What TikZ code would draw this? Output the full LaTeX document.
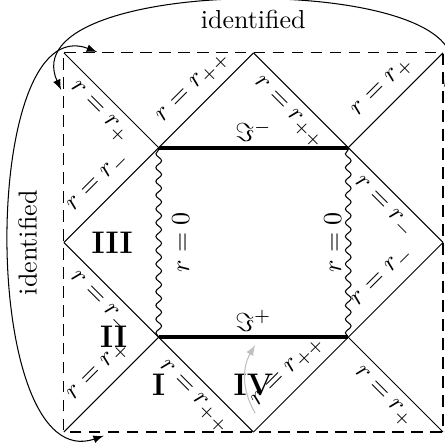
\documentclass[tikz,border=0pt]{standalone}
\usepackage{amsmath}
\usepackage{amssymb}
\usepackage{tikz}
\usetikzlibrary{decorations.pathmorphing, positioning, arrows}

\begin{document}
\begin{tikzpicture}[x=1.281cm, y=1.281cm,
    sing/.style={decorate, decoration={snake, amplitude=1.1pt, segment length=5.3pt}},
    bdry/.style={ultra thick},
    frame/.style={dash pattern=on 4.5pt off 2.8pt},
    region/.style={font=\large\bfseries},
    ident/.style={<->, >=latex}]
    \useasboundingbox (-0.675,-0.137) rectangle (4.021,4.559);

    \coordinate (TL) at (0,4);
    \coordinate (TM) at (2,4);
    \coordinate (TR) at (4,4);
    \coordinate (A) at (1,3);
    \coordinate (B) at (3,3);
    \coordinate (ML) at (0,2);
    \coordinate (MR) at (4,2);
    \coordinate (C) at (1,1);
    \coordinate (D) at (3,1);
    \coordinate (BL) at (0,0);
    \coordinate (BM) at (2,0);
    \coordinate (BR) at (4,0);

    \draw[frame] (TL) -- (TR) -- (BR) -- (BL) -- cycle;

    \draw (TL) edge node[below, sloped] {$r=r_+$} (A);
    \draw (A) edge node[above, sloped] {$r=r_{++}$} (TM);
    \draw (TM) edge node[below, sloped] {$r=r_{++}$} (B);
    \draw (B) edge node[above, sloped] {$r=r_+$} (TR);

    \draw (ML) edge node[above, sloped] {$r=r_-$} (A);
    \draw (ML) edge node[below, sloped] {$r=r_-$} (C);
    \draw (B) edge node[below, sloped] {$r=r_-$} (MR);
    \draw (D) edge node[above, sloped] {$r=r_-$} (MR);

    \draw (BL) edge node[above, sloped] {$r=r_+$} (C);
    \draw (C) edge node[below, sloped] {$r=r_{++}$} (BM);
    \draw (BM) edge node[above, sloped] {$r=r_{++}$} (D);
    \draw (D) edge node[below, sloped] {$r=r_+$} (BR);

    \draw[bdry] (A) -- node[above, inner sep=1.5pt] (Im) {$\Im^-$} (B);
    \draw[bdry] (C) -- node[above, inner sep=1.5pt] (Ip) {$\Im^+$} (D);
    \draw (C) edge[sing] node[below, sloped, inner sep=5pt] {$r=0$} (A);
    \draw (D) edge[sing] node[above, sloped, inner sep=2.5pt] {$r=0$} (B);

    \node[region, right=0.25cm of ML] (III) {III};
    \node[region, left=0.3cm of C] (II) {II};
    \node[region, below=0.38cm of C] (I) {I};
    \node[region, above=0.37cm of BM] (IV) {IV};

    % identifications
    \coordinate (topL) at (-0.03,3.61);
    \coordinate (topR) at (4.01,3.64);
    \coordinate (leftT) at (0.35,4.01);
    \coordinate (leftB) at (0.42,-0.04);
    \draw[ident] (topL) .. controls (-0.6,4.86) and (4.6,4.86) ..
      node[pos=0.5, below] {identified} (topR);
    \draw[ident] (leftT) .. controls (-0.9,4.5) and (-0.9,-0.5) ..
      node[pos=0.5, rotate=90, anchor=north] {identified} (leftB);

    \coordinate (G1) at (2.017,0.2);
    \coordinate (G2) at (2.017,0.918);
    \draw[black!25, ->, >=latex] (G1) to[bend left=30] (G2);
\end{tikzpicture}
\end{document}
